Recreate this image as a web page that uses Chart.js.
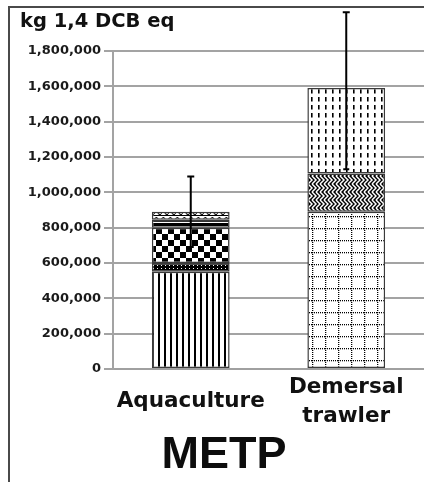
<!DOCTYPE html>
<html>
<head>
<meta charset="utf-8">
<script src="https://cdn.jsdelivr.net/npm/chart.js@4"></script>
<style>
  html, body { margin: 0; padding: 0; background: #fff; }
  #wrap { position: relative; width: 424px; height: 482px; overflow: hidden; }
  #frame { position: absolute; left: 8px; top: 6px; width: 420px; height: 480px;
           border-left: 2px solid #4a4a4a; border-top: 2px solid #4a4a4a; pointer-events: none; }
  #unit { position: absolute; left: 20px; top: 9px; font: bold 19.5px "DejaVu Sans", sans-serif;
          color: #111; white-space: nowrap; }
  #caption { position: absolute; left: 0; width: 448px; top: 427px; text-align: center;
             font: bold 45px "Liberation Sans", Arial, sans-serif; color: #0d0d0d; }
  canvas { position: absolute; left: 0; top: 0; }
</style>
</head>
<body>
<div id="wrap">
  <canvas id="chart" width="424" height="482"></canvas>
  <div id="frame"></div>
  <div id="unit">kg 1,4 DCB eq</div>
  <div id="caption">METP</div>
</div>
<script>
// Categories and stacked contributions (kg 1,4-DCB eq)
const categories = ['Aquaculture', ['Demersal', 'trawler']];
const aquacultureParts = [550000, 50000, 200000, 45000, 45000];
const trawlerParts = [890000, 217000, 483000];
// Uncertainty range above / below each total
const errorPlus = [200000, 430000];
const errorMinus = [200000, 460000];
// Y axis ticks
const yTicks = [0, 200000, 400000, 600000, 800000, 1000000, 1200000, 1400000, 1600000, 1800000];

// ---- monochrome hatch fills ----
function tile(w, h, draw) {
  const c = document.createElement('canvas');
  c.width = w; c.height = h;
  const g = c.getContext('2d');
  g.fillStyle = '#fff'; g.fillRect(0, 0, w, h);
  g.fillStyle = '#000'; g.strokeStyle = '#000';
  draw(g);
  return g.createPattern(c, 'repeat');
}
const ctx0 = document.getElementById('chart').getContext('2d');
const fills = {
  vlines: tile(6, 6, g => { g.fillRect(2, 0, 2, 6); }),
  dense: tile(4, 3, g => { g.fillRect(0, 0, 4, 3); g.fillStyle = '#fff'; g.fillRect(1, 1, 1, 1); }),
  checker: tile(12, 12, g => { g.fillRect(0, 0, 6, 6); g.fillRect(6, 6, 6, 6); }),
  darkband: tile(4, 4, g => { g.fillRect(0, 0, 4, 4); g.fillStyle = '#fff'; g.fillRect(0, 2, 4, 1); }),
  wave: tile(7, 6, g => {
    g.lineWidth = 1.2;
    g.beginPath(); g.moveTo(0, 4); g.quadraticCurveTo(2, 0, 4, 3); g.quadraticCurveTo(5, 5, 7, 4); g.stroke();
    g.fillRect(0, 5, 7, 1);
  }),
  dotgrid: tile(13, 12, g => {
    for (let x = 0; x < 13; x += 2) g.fillRect(x, 0, 1, 1.3);
    for (let y = 0; y < 12; y += 2) g.fillRect(0, y, 1.3, 1);
  }),
  // herringbone weave: dark ground with light chevrons
  weave: tile(8, 8, g => {
    g.fillRect(0, 0, 8, 8);
    g.strokeStyle = '#fff';
    g.lineWidth = 1.5;
    g.beginPath();
    for (let k = -8; k <= 16; k += 4) {
      g.moveTo(k, 0); g.lineTo(k + 4, 4); g.lineTo(k, 8);
    }
    g.stroke();
  }),
  dashes: tile(7, 8, g => { g.fillRect(3, 1, 1.6, 4.5); })
};
const aquacultureFills = [fills.vlines, fills.dense, fills.checker, fills.darkband, fills.wave];
const trawlerFills = [fills.dotgrid, fills.weave, fills.dashes];

const levels = Math.max(aquacultureParts.length, trawlerParts.length);
const datasets = [];
for (let i = 0; i < levels; i++) {
  datasets.push({
    label: 'part ' + (i + 1),
    data: [aquacultureParts[i] ?? null, trawlerParts[i] ?? null],
    backgroundColor: [aquacultureFills[i] || '#fff', trawlerFills[i] || '#fff'],
    borderColor: '#3a3a3a',
    borderWidth: 1.5,
    borderSkipped: false,
    barPercentage: 0.5,
    categoryPercentage: 1.0
  });
}

// Error bars drawn over the stacked totals
const errorBars = {
  id: 'errorBars',
  afterDatasetsDraw(chart) {
    const y = chart.scales.y;
    const ctx = chart.ctx;
    const meta = chart.getDatasetMeta(0);
    const totals = [aquacultureParts, trawlerParts].map(p => p.reduce((a, b) => a + b, 0));
    ctx.save();
    ctx.strokeStyle = '#000';
    ctx.lineWidth = 2;
    totals.forEach((t, i) => {
      const x = meta.data[i].x;
      const yTop = y.getPixelForValue(t + errorPlus[i]);
      const yBot = y.getPixelForValue(t - errorMinus[i]);
      ctx.beginPath();
      ctx.moveTo(x, yTop); ctx.lineTo(x, yBot);
      ctx.moveTo(x - 3.5, yTop); ctx.lineTo(x + 3.5, yTop);
      ctx.moveTo(x - 3, yBot); ctx.lineTo(x + 3, yBot);
      ctx.stroke();
    });
    ctx.restore();
  }
};

new Chart(ctx0, {
  type: 'bar',
  data: { labels: categories, datasets },
  options: {
    responsive: false,
    animation: false,
    devicePixelRatio: 1,
    layout: { padding: { top: 51, right: 0, left: 0, bottom: 0 } },
    plugins: { legend: { display: false }, tooltip: { enabled: false } },
    scales: {
      x: {
        stacked: true,
        grid: { display: false },
        border: { color: '#a0a0a0', width: 2 },
        ticks: {
          crossAlign: 'center',
          padding: 10,
          color: '#111',
          font: { family: 'DejaVu Sans', weight: 'bold', size: 21.5, lineHeight: 1.36 }
        },
        afterFit(scale) { scale.height = 113; }
      },
      y: {
        stacked: true,
        min: 0,
        max: yTicks[yTicks.length - 1],
        afterBuildTicks(scale) { scale.ticks = yTicks.map(v => ({ value: v })); },
        grid: { color: '#a3a3a3', lineWidth: 2, tickLength: 9 },
        border: { color: '#a3a3a3', width: 2 },
        ticks: {
          padding: 3,
          color: '#1a1a1a',
          font: { family: 'DejaVu Sans', weight: 'bold', size: 13 },
          callback: v => v.toLocaleString('en-US')
        },
        afterFit(scale) { scale.width = 113; }
      }
    }
  },
  plugins: [errorBars]
});
</script>
</body>
</html>
